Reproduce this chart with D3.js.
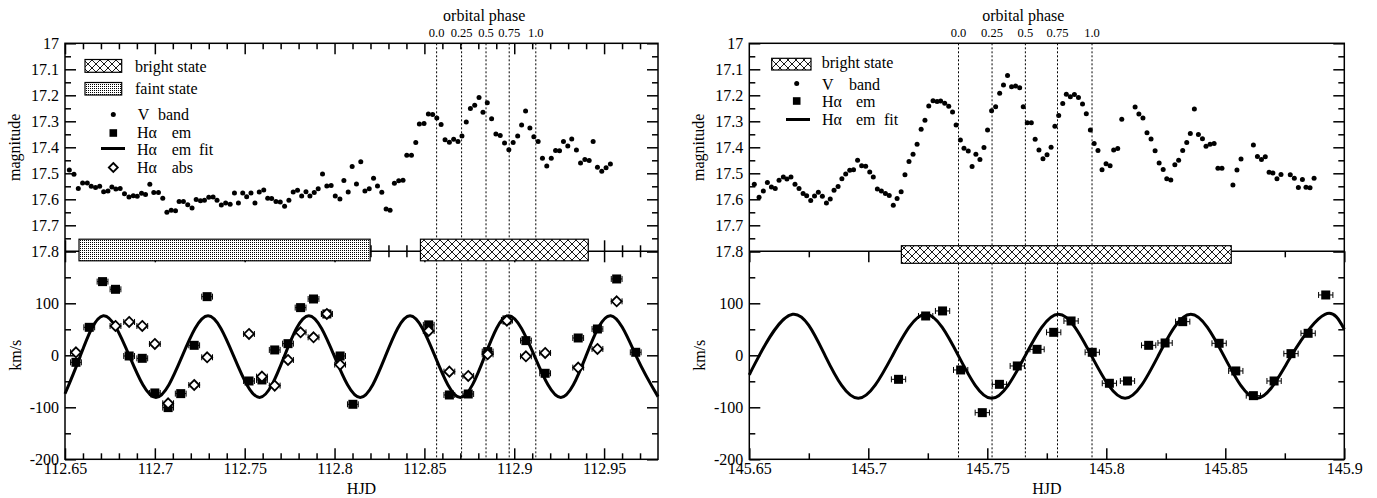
<!DOCTYPE html>
<html lang="en">
<head>
<meta charset="UTF-8">
<title>V band light curve and H-alpha radial velocities</title>
<script src="https://d3js.org/d3.v7.min.js"></script>
<style>
  body { margin: 0; background: #fff; }
  svg text { font-family: "Liberation Serif", "Times New Roman", serif; fill: #000; }
</style>
</head>
<body>
<svg id="chart" width="1377" height="498"></svg>
<script>
// ---------- values ----------
const magTicks = [17, 17.1, 17.2, 17.3, 17.4, 17.5, 17.6, 17.7, 17.8];
const magLabels = ["17", "17.1", "17.2", "17.3", "17.4", "17.5", "17.6", "17.7", "17.8"];
const magMinor = [17.05, 17.15, 17.25, 17.35, 17.45, 17.55, 17.65, 17.75];
const rvTicks = [-200, -100, 0, 100, 200];
const rvLabels = ["-200", "-100", "0", "100", ""];
const rvMinor = [-150, -50, 50, 150];
const phaseLabels = ["0.0", "0.25", "0.5", "0.75", "1.0"];

const leftHjdTicks = [112.65, 112.7, 112.75, 112.8, 112.85, 112.9, 112.95];
const leftHjdLabels = ["112.65", "112.7", "112.75", "112.8", "112.85", "112.9", "112.95"];
const leftHjdMinor = [112.66, 112.67, 112.68, 112.69, 112.71, 112.72, 112.73, 112.74, 112.76, 112.77, 112.78, 112.79,
  112.81, 112.82, 112.83, 112.84, 112.86, 112.87, 112.88, 112.89, 112.91, 112.92, 112.93, 112.94, 112.96, 112.97];
const rightHjdTicks = [145.65, 145.7, 145.75, 145.8, 145.85, 145.9];
const rightHjdLabels = ["145.65", "145.7", "145.75", "145.8", "145.85", "145.9"];
const rightHjdMinor = [145.675, 145.725, 145.775, 145.825, 145.875];

// night 1 (HJD 112.x)
const leftVBand = [
  [112.6524,17.487],[112.6550,17.504],[112.6574,17.558],[112.6598,17.537],[112.6624,17.537],[112.6646,17.550],[112.6670,17.555],[112.6693,17.550],[112.6715,17.571],[112.6739,17.568],
  [112.6761,17.553],[112.6783,17.560],[112.6807,17.558],[112.6831,17.579],[112.6856,17.591],[112.6880,17.586],[112.6902,17.588],[112.6926,17.577],[112.6948,17.582],[112.6972,17.542],
  [112.6994,17.574],[112.7020,17.574],[112.7044,17.596],[112.7067,17.650],[112.7091,17.642],[112.7115,17.644],[112.7135,17.608],[112.7159,17.608],[112.7183,17.621],[112.7207,17.633],
  [112.7230,17.601],[112.7254,17.606],[112.7276,17.604],[112.7300,17.592],[112.7324,17.591],[112.7346,17.604],[112.7370,17.622],[112.7394,17.614],[112.7419,17.619],[112.7443,17.576],
  [112.7465,17.614],[112.7489,17.576],[112.7511,17.590],[112.7535,17.576],[112.7557,17.614],[112.7581,17.572],[112.7606,17.564],[112.7628,17.596],[112.7650,17.597],[112.7674,17.608],
  [112.7698,17.610],[112.7722,17.627],[112.7746,17.604],[112.7770,17.572],[112.7794,17.565],[112.7817,17.587],[112.7841,17.571],[112.7863,17.587],[112.7887,17.574],[112.7909,17.559],
  [112.7933,17.503],[112.7957,17.549],[112.7981,17.547],[112.8004,17.587],[112.8030,17.599],[112.8052,17.528],[112.8076,17.572],[112.8098,17.474],[112.8122,17.541],[112.8146,17.456],
  [112.8169,17.568],[112.8193,17.559],[112.8217,17.519],[112.8239,17.549],[112.8263,17.573],[112.8287,17.637],[112.8309,17.642],[112.8333,17.538],[112.8357,17.529],[112.8381,17.527],
  [112.8402,17.431],[112.8428,17.431],[112.8452,17.382],[112.8472,17.310],[112.8498,17.308],[112.8522,17.272],[112.8546,17.274],[112.8569,17.287],[112.8593,17.312],[112.8615,17.371],
  [112.8639,17.381],[112.8663,17.369],[112.8687,17.378],[112.8709,17.357],[112.8733,17.303],[112.8756,17.251],[112.8780,17.238],[112.8804,17.208],[112.8826,17.265],[112.8850,17.229],
  [112.8874,17.290],[112.8898,17.349],[112.8922,17.355],[112.8946,17.383],[112.8970,17.409],[112.8994,17.382],[112.9019,17.357],[112.9041,17.314],[112.9063,17.260],[112.9087,17.326],
  [112.9109,17.359],[112.9133,17.378],[112.9157,17.442],[112.9181,17.472],[112.9206,17.442],[112.9230,17.412],[112.9252,17.413],[112.9274,17.378],[112.9298,17.395],[112.9320,17.368],
  [112.9346,17.410],[112.9369,17.460],[112.9393,17.447],[112.9417,17.451],[112.9439,17.378],[112.9463,17.477],[112.9487,17.492],[112.9511,17.479],[112.9535,17.464]
];
const leftEm = [
  [112.6561,-13.5],[112.6635,53.8],[112.6709,141.7],[112.6781,126.9],[112.6857,-1.3],[112.6930,-5.8],[112.7000,-72.4],
  [112.7074,-100.6],[112.7144,-73.7],[112.7219,19.2],[112.7291,112.8],[112.7524,-49.4],[112.7596,-47.4],[112.7667,10.3],
  [112.7741,22.4],[112.7811,91.7],[112.7883,108.3],[112.7957,79.5],[112.8031,-1.3],[112.8102,-94.2],[112.8524,58.5],[112.8639,-76.3],
  [112.8744,-74.4],[112.8852,7.1],[112.8959,68.0],[112.9065,28.2],[112.9172,-34.6],[112.9356,33.3],[112.9463,50.6],
  [112.9570,146.8],[112.9676,5.8]
];
const leftAbs = [
  [112.6561,5.8],[112.6781,56.4],[112.6857,64.1],[112.6930,56.4],[112.7000,21.8],[112.7074,-92.3],[112.7219,-57.1],
  [112.7291,-3.8],[112.7524,41.0],[112.7596,-41.0],[112.7667,-58.3],[112.7741,-9.0],[112.7811,44.2],[112.7883,34.6],
  [112.7957,79.5],[112.8031,-17.9],[112.8524,46.8],[112.8639,-31.4],[112.8744,-39.7],[112.8852,1.9],[112.8959,66.7],
  [112.9065,-1.9],[112.9172,4.5],[112.9356,-23.7],[112.9463,12.2],[112.9570,103.8]
];
const leftErr = 0.003;
// fitted curve, read at its extrema and mean crossings
const leftFit = [
  [112.65,-74],[112.6584,-2.5],[112.6713,76],[112.6860,-2.5],[112.7006,-81],[112.7151,-2.5],[112.7296,76],
  [112.7440,-2.5],[112.7583,-81],[112.7720,-2.5],[112.7857,76],[112.8000,-2.5],[112.8143,-81],[112.8282,-2.5],
  [112.8420,76],[112.8560,-2.5],[112.8700,-81],[112.8835,-2.5],[112.8969,76],[112.9114,-2.5],[112.9259,-81],
  [112.9398,-2.5],[112.9537,76],[112.9680,-2.5],[112.98,-79.5]
];
const leftPhase = [112.8568, 112.8707, 112.8843, 112.8972, 112.9120];
const leftStates = [
  { state: "faint", from: 112.6578, to: 112.8198 },
  { state: "bright", from: 112.8478, to: 112.9412 }
];

// night 2 (HJD 145.x)
const rightVBand = [
  [145.6521,17.542],[145.6541,17.592],[145.6559,17.568],[145.6576,17.535],[145.6593,17.553],[145.6609,17.558],[145.6625,17.527],[145.6643,17.514],[145.6658,17.522],[145.6675,17.514],
  [145.6692,17.542],[145.6709,17.558],[145.6726,17.578],[145.6741,17.586],[145.6758,17.605],[145.6774,17.587],[145.6790,17.573],[145.6807,17.588],[145.6824,17.614],[145.6840,17.599],
  [145.6856,17.565],[145.6873,17.551],[145.6889,17.521],[145.6905,17.503],[145.6922,17.488],[145.6938,17.486],[145.6955,17.450],[145.6972,17.471],[145.6989,17.473],[145.7006,17.495],
  [145.7021,17.514],[145.7038,17.560],[145.7055,17.568],[145.7072,17.578],[145.7088,17.585],[145.7105,17.623],[145.7121,17.597],[145.7138,17.571],[145.7154,17.506],[145.7171,17.455],
  [145.7188,17.427],[145.7205,17.388],[145.7222,17.331],[145.7238,17.296],[145.7254,17.241],[145.7272,17.221],[145.7289,17.224],[145.7304,17.222],[145.7321,17.231],[145.7338,17.242],
  [145.7354,17.264],[145.7369,17.314],[145.7387,17.372],[145.7402,17.404],[145.7420,17.414],[145.7436,17.474],[145.7452,17.427],[145.7469,17.447],[145.7486,17.401],[145.7501,17.333],
  [145.7518,17.259],[145.7535,17.244],[145.7552,17.192],[145.7568,17.160],[145.7585,17.124],[145.7602,17.167],[145.7619,17.164],[145.7636,17.171],[145.7651,17.244],[145.7668,17.306],
  [145.7685,17.306],[145.7701,17.369],[145.7717,17.410],[145.7734,17.444],[145.7751,17.429],[145.7768,17.400],[145.7784,17.319],[145.7800,17.278],[145.7817,17.232],[145.7832,17.196],
  [145.7849,17.206],[145.7866,17.197],[145.7883,17.208],[145.7900,17.233],[145.7916,17.271],[145.7933,17.333],[145.7949,17.385],[145.7965,17.412],[145.7982,17.486],[145.7999,17.463],
  [145.8016,17.471],[145.8031,17.410],[145.8048,17.405],[145.8065,17.292],[145.8121,17.245],[145.8137,17.272],[145.8154,17.287],[145.8171,17.344],[145.8188,17.368],[145.8205,17.413],
  [145.8222,17.460],[145.8239,17.485],[145.8254,17.521],[145.8271,17.526],[145.8288,17.467],[145.8304,17.450],[145.8321,17.412],[145.8338,17.382],[145.8353,17.347],[145.8370,17.253],
  [145.8387,17.351],[145.8404,17.367],[145.8419,17.396],[145.8436,17.388],[145.8453,17.385],[145.8469,17.481],[145.8486,17.481],[145.8532,17.545],[145.8549,17.487],[145.8566,17.445],
  [145.8618,17.391],[145.8635,17.435],[145.8652,17.447],[145.8668,17.436],[145.8684,17.496],[145.8700,17.499],[145.8717,17.521],[145.8734,17.505],[145.8773,17.506],[145.8790,17.519],
  [145.8807,17.555],[145.8824,17.524],[145.8839,17.554],[145.8856,17.556],[145.8873,17.519]
];
const rightEm = [
  [145.7127,-46.2],[145.7241,75.6],[145.7312,85.3],[145.7388,-28.2],[145.7479,-110.3],[145.7551,-55.8],[145.7626,-20.5],
  [145.7709,11.5],[145.7779,44.2],[145.7852,66.0],[145.7941,5.8],[145.8013,-53.8],[145.8089,-49.4],[145.8178,19.2],
  [145.8247,23.7],[145.8321,64.7],[145.8474,23.1],[145.8544,-30.1],[145.8618,-77.6],[145.8705,-49.4],[145.8776,3.2],
  [145.8848,42.3],[145.8922,116.0]
];
const rightErr = 0.003;
const rightFit = [
  [145.65,-37.8],[145.6540,-2],[145.6682,78.8],[145.6820,-2],[145.6958,-82.7],[145.7100,-2],[145.7241,78.8],
  [145.7380,-2],[145.7518,-82.7],[145.7658,-2],[145.7799,78.8],[145.7939,-2],[145.8079,-82.7],[145.8217,-2],
  [145.8355,78.8],[145.8495,-2],[145.8634,-82.7],[145.8776,-2],[145.8919,78.8],[145.90,50]
];
const rightPhase = [145.7379, 145.7520, 145.7660, 145.7795, 145.7940];
const rightStates = [
  { state: "bright", from: 145.7139, to: 145.8525 }
];

// ---------- drawing ----------
const SERIF = '"Liberation Serif", "Times New Roman", serif';
const TOP = 43.3, MID = 251.3, BOTTOM = 459.3;
const MAJOR = 11, MINOR = 6;
const svg = d3.select('#chart');

// fill patterns for the state bars
const defs = svg.append('defs');
const hatch = defs.append('pattern').attr('id', 'hatch-bright')
  .attr('patternUnits', 'userSpaceOnUse').attr('width', 8).attr('height', 8);
hatch.append('rect').attr('width', 8).attr('height', 8).attr('fill', '#fff');
hatch.append('path').attr('d', 'M0,0L8,8M8,0L0,8M-1,7L1,9M7,-1L9,1M-1,1L1,-1M7,9L9,7')
  .attr('stroke', '#000').attr('stroke-width', 0.9).attr('fill', 'none');
const dots = defs.append('pattern').attr('id', 'dots-faint')
  .attr('patternUnits', 'userSpaceOnUse').attr('width', 2).attr('height', 2);
dots.append('rect').attr('width', 2).attr('height', 2).attr('fill', '#fff');
dots.append('rect').attr('width', 1).attr('height', 1).attr('fill', '#000');
const stateFill = { bright: 'url(#hatch-bright)', faint: 'url(#dots-faint)' };

function diamondPath(r) {
  return `M0,${-r}L${r},0L0,${r}L${-r},0Z`;
}

function styleAxis(g) {
  g.select('.domain').remove();
  g.attr('font-family', SERIF).attr('font-size', 16);
  g.selectAll('line').attr('stroke', '#000').attr('stroke-width', 1.5);
  g.selectAll('text').attr('fill', '#000');
}

function drawPanel(p) {
  const x = d3.scaleLinear().domain(p.domain).range([p.left, p.right]);
  const yMag = d3.scaleLinear().domain([17, 17.8]).range([TOP, MID]);
  const yRv = d3.scaleLinear().domain([-200, 200]).range([BOTTOM, MID]);
  const g = svg.append('g');

  // orbital phase markers
  g.selectAll('.phase').data(p.phase).enter().append('line')
    .attr('x1', d => x(d)).attr('x2', d => x(d))
    .attr('y1', TOP).attr('y2', BOTTOM)
    .attr('stroke', '#000').attr('stroke-width', 1).attr('stroke-dasharray', '2,2');
  g.selectAll('.phaseLabel').data(p.phase).enter().append('text')
    .attr('x', d => x(d)).attr('y', 37)
    .attr('text-anchor', 'middle').attr('font-size', 12.5)
    .text((d, i) => phaseLabels[i]);
  g.append('text')
    .attr('x', (x(p.phase[0]) + x(p.phase[p.phase.length - 1])) / 2 - 2).attr('y', 20.5)
    .attr('text-anchor', 'middle').attr('font-size', 16)
    .text('orbital phase');

  // frame and divider
  g.append('rect').attr('x', p.left).attr('y', TOP)
    .attr('width', p.right - p.left).attr('height', BOTTOM - TOP)
    .attr('fill', 'none').attr('stroke', '#000').attr('stroke-width', 1.5);
  g.append('line').attr('x1', p.left).attr('x2', p.right).attr('y1', MID).attr('y2', MID)
    .attr('stroke', '#000').attr('stroke-width', 1.5);

  // x ticks
  const xTicks = (axisFn, y, size, values, labels) => {
    const a = axisFn(x).tickValues(values).tickSize(size).tickPadding(3)
      .tickFormat(labels ? (d, i) => labels[i] : () => '');
    g.append('g').attr('transform', `translate(0,${y})`).call(a).call(styleAxis);
  };
  xTicks(d3.axisBottom, BOTTOM, -MAJOR, p.hjdTicks, p.hjdLabels);
  xTicks(d3.axisBottom, BOTTOM, -MINOR, p.hjdMinor, null);
  xTicks(d3.axisTop, MID, -MAJOR, p.hjdTicks, null);
  xTicks(d3.axisTop, MID, -MINOR, p.hjdMinor, null);
  if (p.magXTicks) {
    xTicks(d3.axisTop, TOP, -MAJOR, p.hjdTicks, null);
    xTicks(d3.axisTop, TOP, -MINOR, p.hjdMinor, null);
    xTicks(d3.axisBottom, MID, -MAJOR, p.hjdTicks, null);
    xTicks(d3.axisBottom, MID, -MINOR, p.hjdMinor, null);
  }

  // y ticks
  const yTicks = (axisFn, xPos, scale, size, values, labels) => {
    const a = axisFn(scale).tickValues(values).tickSize(size).tickPadding(6)
      .tickFormat(labels ? (d, i) => labels[i] : () => '');
    g.append('g').attr('transform', `translate(${xPos},0)`).call(a).call(styleAxis);
  };
  yTicks(d3.axisLeft, p.left, yMag, -MAJOR, magTicks, magLabels);
  yTicks(d3.axisLeft, p.left, yMag, -MINOR, magMinor, null);
  yTicks(d3.axisRight, p.right, yMag, -MAJOR, magTicks, null);
  yTicks(d3.axisRight, p.right, yMag, -MINOR, magMinor, null);
  yTicks(d3.axisLeft, p.left, yRv, -MAJOR, rvTicks, rvLabels);
  yTicks(d3.axisLeft, p.left, yRv, -MINOR, rvMinor, null);
  yTicks(d3.axisRight, p.right, yRv, -MAJOR, rvTicks, null);
  yTicks(d3.axisRight, p.right, yRv, -MINOR, rvMinor, null);

  // state bars on the divider
  g.selectAll('.state').data(p.states).enter().append('rect')
    .attr('x', d => x(d.from)).attr('width', d => x(d.to) - x(d.from))
    .attr('y', p.barTop).attr('height', p.barHeight)
    .attr('fill', d => stateFill[d.state])
    .attr('stroke', '#000').attr('stroke-width', 1.2);

  // axis titles
  g.append('text').attr('transform', `translate(${p.left - 45},${(TOP + MID) / 2}) rotate(-90)`)
    .attr('text-anchor', 'middle').attr('font-size', 16).text('magnitude');
  g.append('text').attr('transform', `translate(${p.left - 44},${(MID + BOTTOM) / 2}) rotate(-90)`)
    .attr('text-anchor', 'middle').attr('font-size', 16).text('km/s');
  g.append('text').attr('x', (p.left + p.right) / 2).attr('y', 494)
    .attr('text-anchor', 'middle').attr('font-size', 16).text('HJD');

  // V band light curve
  g.selectAll('.vband').data(p.vband).enter().append('circle')
    .attr('cx', d => x(d[0])).attr('cy', d => yMag(d[1])).attr('r', 2.5).attr('fill', '#000');

  // fitted velocity curve
  g.append('path').datum(p.fit)
    .attr('d', d3.line().x(d => x(d[0])).y(d => yRv(d[1])).curve(d3.curveNatural))
    .attr('fill', 'none').attr('stroke', '#000').attr('stroke-width', 3);

  // error bars + markers
  const errBars = (data, err) => {
    const eb = g.append('g').attr('stroke', '#000').attr('stroke-width', 1);
    data.forEach(d => {
      const y = yRv(d[1]), x0 = x(d[0] - err), x1 = x(d[0] + err);
      eb.append('line').attr('x1', x0).attr('x2', x1).attr('y1', y).attr('y2', y);
      eb.append('line').attr('x1', x0).attr('x2', x0).attr('y1', y - 3).attr('y2', y + 3);
      eb.append('line').attr('x1', x1).attr('x2', x1).attr('y1', y - 3).attr('y2', y + 3);
    });
  };
  errBars(p.em, p.err);
  g.selectAll('.em').data(p.em).enter().append('rect')
    .attr('x', d => x(d[0]) - 4.5).attr('y', d => yRv(d[1]) - 4.5)
    .attr('width', 9).attr('height', 9).attr('fill', '#000');
  if (p.abs) {
    errBars(p.abs, p.err);
    g.selectAll('.abs').data(p.abs).enter().append('path')
      .attr('transform', d => `translate(${x(d[0])},${yRv(d[1])})`)
      .attr('d', diamondPath(5))
      .attr('fill', '#fff').attr('stroke', '#000').attr('stroke-width', 1.8);
  }

  // legend
  const lg = g.append('g');
  p.legend.forEach(item => {
    if (item.type === 'state') {
      lg.append('rect').attr('x', item.x).attr('y', item.y).attr('width', item.w).attr('height', item.h)
        .attr('fill', stateFill[item.state]).attr('stroke', '#000').attr('stroke-width', 1.2);
    } else if (item.type === 'dot') {
      lg.append('circle').attr('cx', item.cx).attr('cy', item.cy).attr('r', 2.5).attr('fill', '#000');
    } else if (item.type === 'square') {
      lg.append('rect').attr('x', item.cx - 3.8).attr('y', item.cy - 3.8).attr('width', 7.6).attr('height', 7.6).attr('fill', '#000');
    } else if (item.type === 'line') {
      lg.append('line').attr('x1', item.x1).attr('x2', item.x2).attr('y1', item.cy).attr('y2', item.cy)
        .attr('stroke', '#000').attr('stroke-width', 3);
    } else if (item.type === 'diamond') {
      lg.append('path').attr('transform', `translate(${item.cx},${item.cy})`).attr('d', diamondPath(4.5))
        .attr('fill', '#fff').attr('stroke', '#000').attr('stroke-width', 1.8);
    }
    item.parts.forEach(([txt, tx]) => {
      lg.append('text').attr('x', tx).attr('y', item.ty).attr('font-size', 16).text(txt);
    });
  });
}

drawPanel({
  left: 65, right: 658, domain: [112.65, 112.98],
  hjdTicks: leftHjdTicks, hjdLabels: leftHjdLabels, hjdMinor: leftHjdMinor,
  magXTicks: true,
  vband: leftVBand, em: leftEm, abs: leftAbs, err: leftErr, fit: leftFit,
  phase: leftPhase, states: leftStates, barTop: 239.2, barHeight: 21.6,
  legend: [
    { type: 'state', state: 'bright', x: 85, y: 59.5, w: 36.7, h: 12.8, parts: [['bright state', 135]], ty: 72 },
    { type: 'state', state: 'faint', x: 85, y: 82.5, w: 36.7, h: 12.5, parts: [['faint state', 135]], ty: 94 },
    { type: 'dot', cx: 113.3, cy: 114.5, parts: [['V', 137.7], ['band', 158]], ty: 120 },
    { type: 'square', cx: 113.3, cy: 133, parts: [['Hα', 137], ['em', 171.7]], ty: 137.7 },
    { type: 'line', x1: 101, x2: 125, cy: 148.5, parts: [['Hα', 137], ['em', 171.7], ['fit', 199]], ty: 155 },
    { type: 'diamond', cx: 113.3, cy: 167.5, parts: [['Hα', 137], ['abs', 171.7]], ty: 172.5 }
  ]
});

drawPanel({
  left: 749.3, right: 1344.3, domain: [145.65, 145.9],
  hjdTicks: rightHjdTicks, hjdLabels: rightHjdLabels, hjdMinor: rightHjdMinor,
  magXTicks: false,
  vband: rightVBand, em: rightEm, abs: null, err: rightErr, fit: rightFit,
  phase: rightPhase, states: rightStates, barTop: 245.7, barHeight: 17.6,
  legend: [
    { type: 'state', state: 'bright', x: 771.7, y: 58.3, w: 39.3, h: 11.7, parts: [['bright state', 821.7]], ty: 68 },
    { type: 'dot', cx: 796.7, cy: 83.5, parts: [['V', 822], ['band', 849]], ty: 89.5 },
    { type: 'square', cx: 796.7, cy: 101, parts: [['Hα', 822], ['em', 856]], ty: 107 },
    { type: 'line', x1: 786, x2: 810, cy: 119.5, parts: [['Hα', 822], ['em', 856], ['fit', 884]], ty: 125 }
  ]
});
</script>
</body>
</html>
